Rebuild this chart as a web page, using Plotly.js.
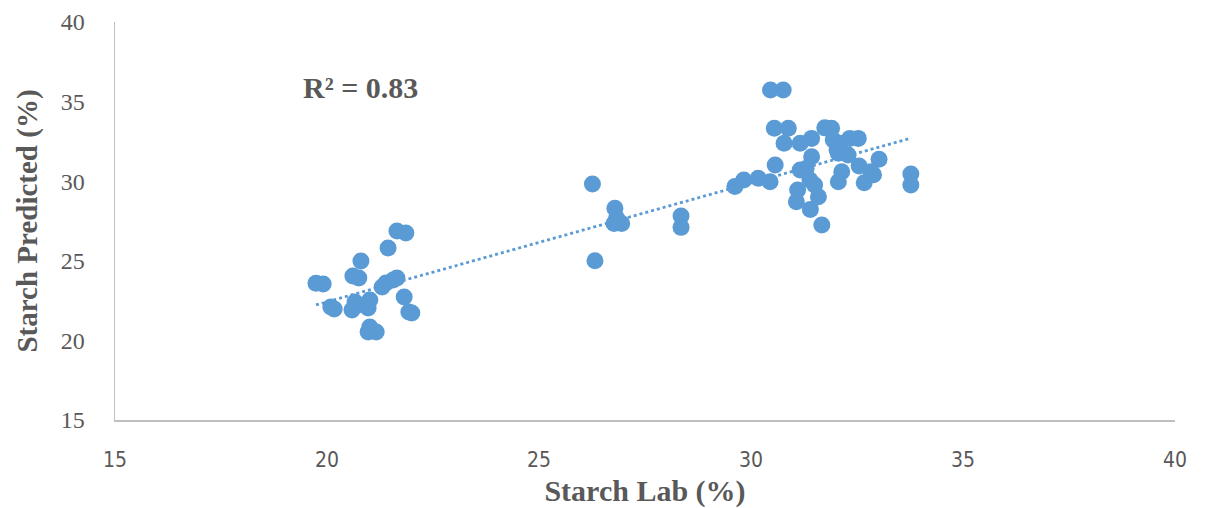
<!DOCTYPE html>
<html>
<head>
<meta charset="utf-8">
<script src="https://cdn.plot.ly/plotly-3.0.1.min.js"></script>
<style>html,body{margin:0;padding:0;background:#fff;}#chart{width:1207px;height:508px;}</style>
</head>
<body>
<div id="chart"></div>
<script>
// Starch Lab (%) values
const labValues = [
  19.74, 19.91, 21.65, 21.86, 21.44, 20.80, 20.61, 20.75, 20.09, 20.17,
  20.59, 20.73, 20.94, 21.01, 20.97, 21.01, 21.16, 20.97, 21.30, 21.39,
  21.65, 21.82, 21.93, 21.56, 22.00, 20.66,
  26.26, 26.32, 26.79, 26.83, 26.77, 26.95, 28.35, 28.35,
  30.46, 30.76, 30.55, 30.88, 30.78, 31.16, 31.43, 30.57, 31.43, 31.16,
  31.30, 29.62, 29.83, 30.17, 30.45, 31.10, 31.07, 31.39, 31.50, 31.59,
  31.40, 31.67, 31.74, 31.90, 31.94, 32.10, 32.33, 32.53, 32.06, 32.29,
  32.55, 33.02, 32.14, 32.06, 32.83, 32.89, 32.67, 33.77, 33.77, 32.03
];
// Starch Predicted (%) values
const predictedValues = [
  23.59, 23.54, 26.87, 26.75, 25.80, 24.99, 24.05, 23.92, 22.10, 21.97,
  21.91, 22.22, 22.22, 22.54, 22.04, 20.84, 20.53, 20.53, 23.35, 23.60,
  23.92, 22.73, 21.78, 23.79, 21.72, 22.41,
  29.82, 25.00, 28.30, 27.67, 27.35, 27.35, 27.81, 27.10,
  35.73, 35.73, 33.32, 33.32, 32.38, 32.38, 32.69, 31.02, 31.54, 30.70,
  30.80, 29.66, 30.08, 30.18, 29.97, 29.45, 28.71, 30.08, 29.76, 29.03,
  28.23, 27.25, 33.35, 33.32, 32.59, 32.38, 32.69, 32.69, 31.75, 31.65,
  30.95, 31.38, 30.60, 29.97, 30.60, 30.40, 29.90, 30.45, 29.76, 31.96
];
const xTicks = [15, 20, 25, 30, 35, 40];
const yTicks = [15, 20, 25, 30, 35, 40];
const r2Label = "R² = 0.83";
const xTitle = "Starch Lab (%)";
const yTitle = "Starch Predicted (%)";

// least-squares trendline
const n = labValues.length;
const mx = labValues.reduce((a,b)=>a+b,0)/n;
const my = predictedValues.reduce((a,b)=>a+b,0)/n;
let sxy = 0, sxx = 0;
for (let i=0;i<n;i++){ sxy += (labValues[i]-mx)*(predictedValues[i]-my); sxx += (labValues[i]-mx)**2; }
const slope = sxy/sxx, icpt = my - slope*mx;
const xMin = Math.min(...labValues), xMax = Math.max(...labValues);
const trendX = [xMin, xMax];
const trendY = trendX.map(v => icpt + slope*v);

const blue = '#5b9bd5';
const grey = '#595959';

const data = [
  {x: trendX, y: trendY, type: 'scatter', mode: 'lines',
   line: {color: blue, width: 2.8, dash: 'dot'}, hoverinfo: 'skip', showlegend: false},
  {x: labValues, y: predictedValues, type: 'scatter', mode: 'markers',
   marker: {color: blue, size: 17, line: {width: 0}}, showlegend: false}
];

const layout = {
  width: 1207, height: 508,
  margin: {l: 115, r: 32, t: 22, b: 88},
  paper_bgcolor: '#fff', plot_bgcolor: '#fff',
  showlegend: false,
  xaxis: {
    range: [15, 40], tickvals: xTicks, ticktext: xTicks.map(String),
    showgrid: false, zeroline: false, showline: true, linecolor: '#bfbfbf', linewidth: 1.5,
    ticks: '', ticklabelstandoff: 20,
    tickfont: {family: 'Liberation Sans Narrow, DejaVu Sans Condensed, sans-serif', size: 21, color: grey},
    title: {text: xTitle, standoff: 16,
            font: {family: 'Liberation Serif, Times New Roman, serif', size: 30, color: grey, weight: 'bold'}}
  },
  yaxis: {
    range: [15, 40], tickvals: yTicks, ticktext: yTicks.map(String),
    showgrid: false, zeroline: false, showline: true, linecolor: '#bfbfbf', linewidth: 1.5,
    ticks: '', ticklabelstandoff: 24,
    tickfont: {family: 'Liberation Serif, Times New Roman, serif', size: 24, color: grey},
    title: {text: yTitle, standoff: 14,
            font: {family: 'Liberation Serif, Times New Roman, serif', size: 29, color: grey, weight: 'bold'}}
  },
  annotations: [{
    text: '<b>' + r2Label + '</b>', xref: 'paper', yref: 'paper',
    x: (360-115)/1060, y: (420-87)/398, xanchor: 'center', yanchor: 'middle', showarrow: false,
    font: {family: 'Liberation Serif, Times New Roman, serif', size: 30, color: grey}
  }]
};

Plotly.newPlot('chart', data, layout, {displayModeBar: false, staticPlot: true});
</script>
</body>
</html>
